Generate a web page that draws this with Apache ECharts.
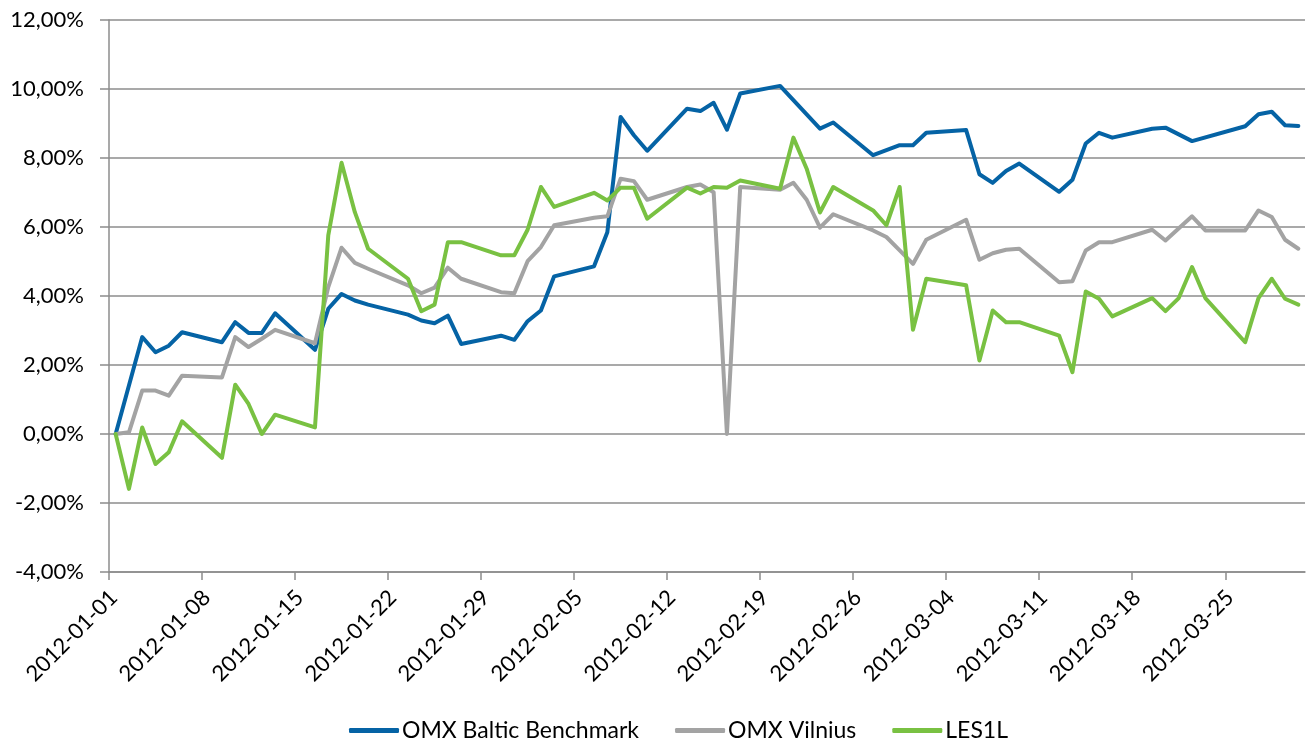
<!DOCTYPE html>
<html>
<head>
<meta charset="utf-8">
<title>OMX Baltic Benchmark / OMX Vilnius / LES1L</title>
<script src="https://cdn.jsdelivr.net/npm/echarts@6/dist/echarts.min.js"></script>
<style>
    html, body {margin: 0; padding: 0; background: #fff;}
    #chart {width: 1309px; height: 744px;}
</style>
</head>
<body>
<div id="chart"></div>
<script>
const FONT = 'Lato';

// trading days
const dates = [
    '2012-01-01', '2012-01-02', '2012-01-03', '2012-01-04', '2012-01-05', '2012-01-06',
    '2012-01-09', '2012-01-10', '2012-01-11', '2012-01-12', '2012-01-13',
    '2012-01-16', '2012-01-17', '2012-01-18', '2012-01-19', '2012-01-20',
    '2012-01-23', '2012-01-24', '2012-01-25', '2012-01-26', '2012-01-27',
    '2012-01-30', '2012-01-31', '2012-02-01', '2012-02-02', '2012-02-03',
    '2012-02-06', '2012-02-07', '2012-02-08', '2012-02-09', '2012-02-10',
    '2012-02-13', '2012-02-14', '2012-02-15', '2012-02-16', '2012-02-17',
    '2012-02-20', '2012-02-21', '2012-02-22', '2012-02-23', '2012-02-24',
    '2012-02-27', '2012-02-28', '2012-02-29', '2012-03-01', '2012-03-02',
    '2012-03-05', '2012-03-06', '2012-03-07', '2012-03-08', '2012-03-09',
    '2012-03-12', '2012-03-13', '2012-03-14', '2012-03-15', '2012-03-16',
    '2012-03-19', '2012-03-20', '2012-03-21', '2012-03-22', '2012-03-23',
    '2012-03-26', '2012-03-27', '2012-03-28', '2012-03-29', '2012-03-30'
];

// % change, null = no point that day (line goes straight through)
const omxBaltic = [
    0, null, 2.81, 2.37, 2.56, 2.95,
    2.66, 3.24, 2.93, 2.93, 3.50,
    2.44, 3.63, 4.06, 3.87, 3.75,
    3.46, 3.29, 3.21, 3.43, 2.61,
    2.85, 2.73, 3.27, 3.58, 4.57,
    4.86, 5.85, 9.19, 8.66, 8.21,
    9.43, 9.36, 9.60, 8.82, 9.87,
    10.09, null, null, 8.85, 9.03,
    8.08, null, 8.37, 8.37, 8.73,
    8.81, 7.53, 7.28, 7.62, 7.84,
    7.02, 7.37, 8.42, 8.73, 8.59,
    8.85, 8.88, null, 8.49, null,
    8.92, 9.27, 9.34, 8.95, 8.93
];

const omxVilnius = [
    0, 0.05, 1.26, 1.26, 1.11, 1.69,
    1.64, 2.81, 2.52, 2.76, 3.02,
    2.63, 4.26, 5.40, 4.96, 4.79,
    4.31, 4.08, 4.24, 4.82, 4.50,
    4.11, 4.08, 5.01, 5.42, 6.05,
    6.27, 6.31, 7.40, 7.33, 6.79,
    7.16, 7.23, 7.01, 0, 7.16,
    7.08, 7.28, 6.79, 5.98, 6.37,
    5.90, 5.71, 5.32, 4.93, 5.63,
    6.21, 5.05, 5.24, 5.34, 5.37,
    4.40, 4.43, 5.32, 5.56, 5.56,
    5.92, 5.61, null, 6.31, 5.90,
    5.90, 6.48, 6.29, 5.63, 5.37
];

const les1l = [
    0, -1.59, 0.19, -0.87, -0.53, 0.37,
    -0.69, 1.43, 0.87, 0.00, 0.56,
    0.19, 5.76, 7.86, 6.43, 5.37,
    4.50, 3.56, 3.75, 5.56, 5.56,
    5.18, 5.18, 5.92, 7.16, 6.58,
    6.99, 6.77, 7.14, 7.14, 6.24,
    7.14, 6.97, 7.16, 7.14, 7.35,
    7.11, 8.59, 7.69, 6.42, 7.16,
    6.48, 6.05, 7.16, 3.02, 4.50,
    4.31, 2.13, 3.58, 3.24, 3.24,
    2.85, 1.79, 4.13, 3.92, 3.41,
    3.94, 3.56, 3.94, 4.84, 3.94,
    2.66, 3.94, 4.50, 3.92, 3.75
];

const seriesNames = ['OMX Baltic Benchmark', 'OMX Vilnius', 'LES1L'];
const seriesColors = ['#0563a5', '#a3a3a3', '#79c142'];

const xTickLabels = [
    '2012-01-01', '2012-01-08', '2012-01-15', '2012-01-22', '2012-01-29', '2012-02-05',
    '2012-02-12', '2012-02-19', '2012-02-26', '2012-03-04', '2012-03-11', '2012-03-18', '2012-03-25'
];
const xStart = '2012-01-01';
const xEnd = '2012-03-31';

const yMin = -4, yMax = 12, yStep = 2;

// ------------------ helpers ------------------
function dayIndex(s) {
    let p = s.split('-');
    let p0 = xStart.split('-');
    return (Date.UTC(+p[0], p[1] - 1, +p[2]) - Date.UTC(+p0[0], p0[1] - 1, +p0[2])) / 86400000;
}

function pairs(values) {
    // Excel date axis: each day is a slot, point sits in the middle of it
    return dates.map(function (d, i) {
        return [dayIndex(d) + 0.5, values[i]];
    });
}

const tickDays = xTickLabels.map(dayIndex);
// excel hangs the rotated labels a little right of the tick
const LABEL_SHIFT = 0.35;
const labelDays = tickDays.map(function (d) { return d + LABEL_SHIFT; });

function pct(v) {
    return v.toFixed(2).replace('.', ',') + '%';
}

// ------------------ chart ------------------
let myChart = echarts.init(document.getElementById('chart'), null, {renderer: 'canvas'});

let option = {
    backgroundColor: '#ffffff',
    animation: false,
    textStyle: {fontFamily: FONT},
    grid: {left: 109, right: 4, top: 20, bottom: 172, containLabel: false},
    legend: {
        bottom: -3,
        left: 344,
        itemWidth: 50,
        itemHeight: 5,
        itemGap: 36,
        icon: 'roundRect',
        textStyle: {fontFamily: FONT, fontSize: 23, color: '#000', padding: [0, 0, 0, -2]},
        data: seriesNames
    },
    xAxis: {
        type: 'value',
        min: 0,
        max: dayIndex(xEnd),
        splitLine: {show: false},
        axisLine: {show: true, onZero: false, lineStyle: {color: '#8c8c8c', width: 1.5}},
        axisTick: {show: true, length: 8, customValues: tickDays, lineStyle: {color: '#8c8c8c', width: 1.5}},
        axisLabel: {
            customValues: labelDays,
            rotate: 45,
            margin: 22,
            fontFamily: FONT,
            fontSize: 22,
            color: '#000',
            formatter: function (v) {
                let i = tickDays.indexOf(Math.round(v - LABEL_SHIFT));
                return i >= 0 ? xTickLabels[i] : '';
            }
        }
    },
    yAxis: {
        type: 'value',
        min: yMin,
        max: yMax,
        interval: yStep,
        axisLine: {show: true, lineStyle: {color: '#8c8c8c', width: 1.5}},
        axisTick: {show: true, length: 9, lineStyle: {color: '#8c8c8c', width: 1.5}},
        splitLine: {show: true, lineStyle: {color: '#8c8c8c', width: 1.5}},
        axisLabel: {
            margin: 25,
            fontFamily: FONT,
            fontSize: 22,
            color: '#000',
            formatter: pct
        }
    },
    series: seriesNames.map(function (name, k) {
        let vals = [omxBaltic, omxVilnius, les1l][k];
        return {
            name: name,
            type: 'line',
            data: pairs(vals),
            connectNulls: true,
            symbol: 'none',
            smooth: false,
            color: seriesColors[k],
            lineStyle: {width: 4, color: seriesColors[k], join: 'round', cap: 'round'},
            z: 2 + k
        };
    })
};

myChart.setOption(option, true);
</script>
</body>
</html>
